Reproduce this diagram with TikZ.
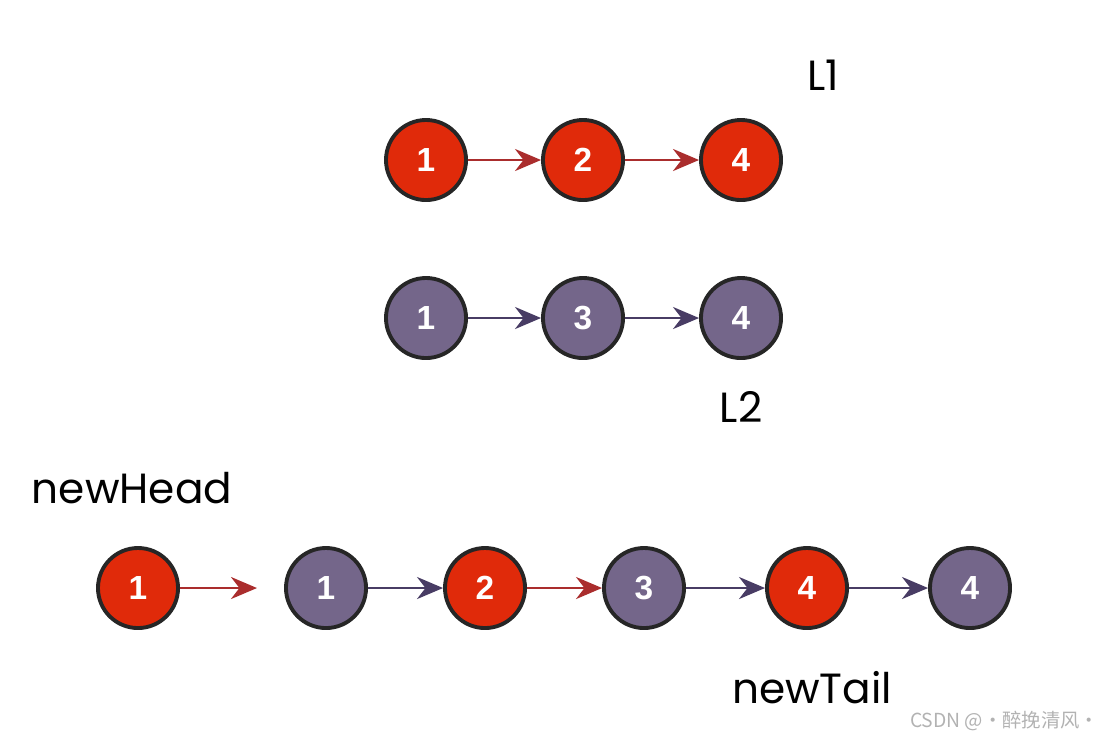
\documentclass[tikz,border=0pt]{standalone}
\usepackage{fontspec}
\setmainfont{Liberation Sans}
\newfontfamily\labelfont{Poppins}
\newfontfamily\cjk{Noto Sans CJK SC}
\usetikzlibrary{arrows.meta}
\definecolor{nodered}{RGB}{224,42,10}
\definecolor{nodepurple}{RGB}{116,102,138}
\definecolor{linkred}{RGB}{170,45,45}
\definecolor{linkpurple}{RGB}{72,60,100}
\tikzset{%
  listnode/.style   = {shape=circle, draw=black!85, line width=1.1pt,%
                       minimum size=0.8cm, inner sep=0pt,%
                       text=white, font=\bfseries\fontsize{9.5}{9.5}\selectfont},%
  rednode/.style    = {listnode, fill=nodered},%
  purplenode/.style = {listnode, fill=nodepurple},%
  redlink/.style    = {draw=linkred, line width=0.8pt, -{Stealth[length=2.6mm,width=2.2mm]}},%
  purplelink/.style = {draw=linkpurple, line width=0.8pt, -{Stealth[length=2.6mm,width=2.2mm]}},%
  tag/.style        = {font=\labelfont\fontsize{12}{12}\selectfont}%
}
\begin{document}
\begin{tikzpicture}[x=0.01cm, y=-0.01cm]%
	\useasboundingbox (0,0) rectangle (1107,741);%
	% L1
	\node [rednode] (a1) at (426,160) {1};%
	\node [rednode] (a2) at (583,160) {2};%
	\node [rednode] (a4) at (741,160) {4};%
	\draw [redlink] (a1) -- (a2);%
	\draw [redlink] (a2) -- (a4);%
	\node [tag] (l1) at (823,75) {L1};%
	% L2
	\node [purplenode] (b1) at (426,318) {1};%
	\node [purplenode] (b3) at (583,318) {3};%
	\node [purplenode] (b4) at (741,318) {4};%
	\draw [purplelink] (b1) -- (b3);%
	\draw [purplelink] (b3) -- (b4);%
	\node [tag] (l2) at (741,407) {L2};%
	% merged list
	\node [tag] (head) at (132,488) {newHead};%
	\node [rednode]    (c0) at (138,588) {1};%
	\node [purplenode] (c1) at (326,588) {1};%
	\node [rednode]    (c2) at (485,588) {2};%
	\node [purplenode] (c3) at (644,588) {3};%
	\node [rednode]    (c4) at (807,588) {4};%
	\node [purplenode] (c5) at (970,588) {4};%
	\coordinate (gap) at (257,588);%
	\draw [redlink]    (c0) -- (gap);%
	\draw [purplelink] (c1) -- (c2);%
	\draw [redlink]    (c2) -- (c3);%
	\draw [purplelink] (c3) -- (c4);%
	\draw [purplelink] (c4) -- (c5);%
	\node [tag] (tail) at (812,688) {newTail};%
	\node [anchor=east, inner sep=0pt, font=\cjk\fontsize{5.5}{5.5}\selectfont, text=black!30] (mark) at (1100,721) {CSDN @·醉挽清风·};%
\end{tikzpicture}
\end{document}
